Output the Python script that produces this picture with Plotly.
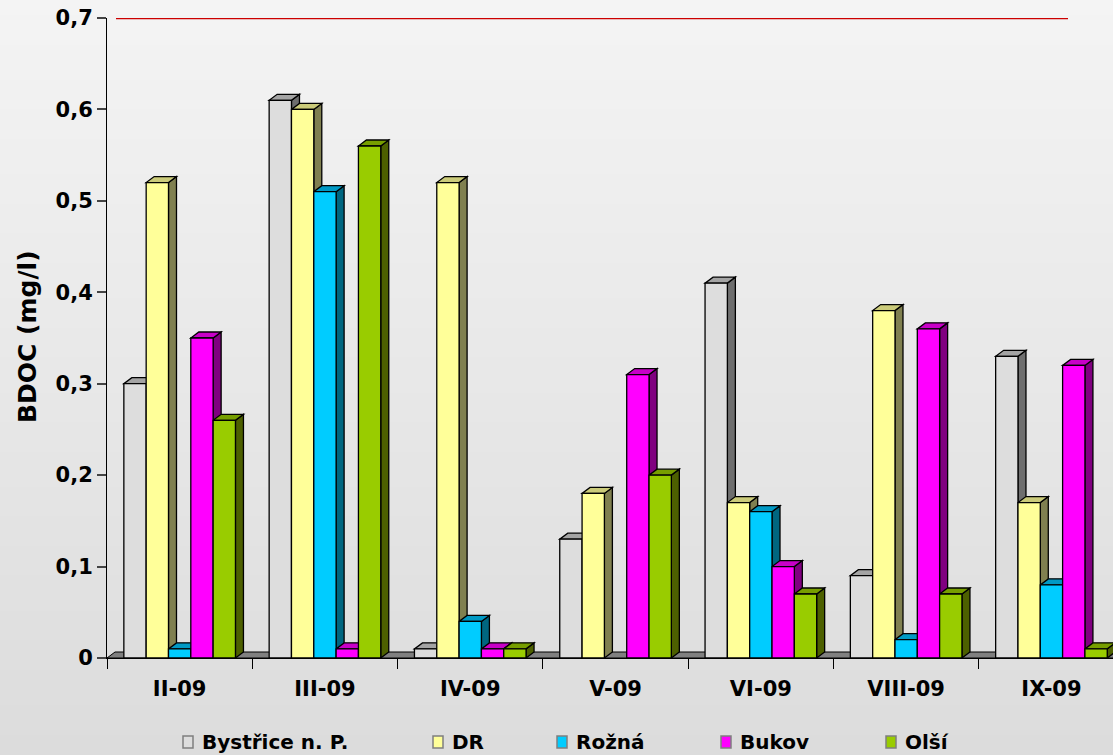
import base64
import struct
import zlib

import plotly.graph_objects as go

# ---- data -------------------------------------------------------------
categories = ["II-09", "III-09", "IV-09", "V-09", "VI-09", "VIII-09", "IX-09"]
series_names = ["Bystřice n. P.", "DR", "Rožná", "Bukov", "Olší"]
bystrice = [0.30, 0.61, 0.01, 0.13, 0.41, 0.09, 0.33]
dr = [0.52, 0.60, 0.52, 0.18, 0.17, 0.38, 0.17]
rozna = [0.01, 0.51, 0.04, None, 0.16, 0.02, 0.08]
bukov = [0.35, 0.01, 0.01, 0.31, 0.10, 0.36, 0.32]
olsi = [0.26, 0.56, 0.01, 0.20, 0.07, 0.07, 0.01]
limit_value = 0.7
y_ticks = [0, 0.1, 0.2, 0.3, 0.4, 0.5, 0.6, 0.7]
y_tick_labels = ["0", "0,1", "0,2", "0,3", "0,4", "0,5", "0,6", "0,7"]

series_values = [bystrice, dr, rozna, bukov, olsi]

# ---- styling ----------------------------------------------------------
front_colors = ["#DDDDDD", "#FFFF99", "#00CCFF", "#FF00FF", "#99CC00"]
top_colors = ["#A4A4A4", "#CBCB7A", "#0099C4", "#C800C8", "#779E00"]
side_colors = ["#6E6E6E", "#808050", "#006680", "#800080", "#4D6000"]

FONT = "DejaVu Sans"
W, H = 1113, 755
M_L, M_R, M_T, M_B = 107, 0, 18, 97
PLOT_W = W - M_L - M_R
PLOT_H = H - M_T - M_B
Y_MAX = 0.7
CAT_PX = 145.3                       # pixel width of one category slot
X_MIN = -0.5
X_MAX = X_MIN + PLOT_W / CAT_PX
BARGAP = 0.232
DEPTH_DX, DEPTH_DY = 8, 6            # 3-D depth offset in pixels
EDGE_W = 1.3

px_per_x = PLOT_W / (X_MAX - X_MIN)
px_per_y = PLOT_H / Y_MAX
ddx = DEPTH_DX / px_per_x
ddy = DEPTH_DY / px_per_y


def paper_x(px):
    return (px - M_L) / PLOT_W


def paper_y(py):
    return (H - M_B - py) / PLOT_H


def gradient_png(top, bottom, h):
    raw = b""
    for r in range(h):
        c = round(top + (bottom - top) * r / (h - 1))
        raw += b"\x00" + bytes([c, c, c])

    def chunk(tag, data):
        body = tag + data
        return struct.pack(">I", len(data)) + body + struct.pack(">I", zlib.crc32(body) & 0xFFFFFFFF)

    png = b"\x89PNG\r\n\x1a\n"
    png += chunk(b"IHDR", struct.pack(">IIBBBBB", 1, h, 8, 2, 0, 0, 0))
    png += chunk(b"IDAT", zlib.compress(raw, 9))
    png += chunk(b"IEND", b"")
    return "data:image/png;base64," + base64.b64encode(png).decode()


x_idx = list(range(len(categories)))
n_series = len(series_values)
bar_w = (1 - BARGAP) / n_series

fig = go.Figure()
shapes = []

# floor strip along the base
shapes.append(dict(
    type="path", xref="paper", yref="y", layer="below",
    path=(f"M {paper_x(M_L)},0 L {paper_x(M_L + DEPTH_DX)},{ddy} "
          f"L {paper_x(W + DEPTH_DX)},{ddy} L {paper_x(W)},0 Z"),
    fillcolor="#808080", line=dict(color="#000000", width=1),
))

# limit line on the back wall
shapes.append(dict(
    type="line", xref="paper", yref="y", layer="below",
    x0=paper_x(M_L + 9), x1=paper_x(1068), y0=limit_value, y1=limit_value,
    line=dict(color="#CC0000", width=2.5),
))

# side and top faces of each bar
for j in x_idx:
    for i, vals in enumerate(series_values):
        v = vals[j]
        if not v:
            continue
        xl = j - (1 - BARGAP) / 2 + i * bar_w
        xr = xl + bar_w
        shapes.append(dict(
            type="path", xref="x", yref="y", layer="below",
            path=(f"M {xr},0 L {xr},{v} L {xr + ddx},{v + ddy} L {xr + ddx},{ddy} Z"),
            fillcolor=side_colors[i], line=dict(color="#000000", width=EDGE_W),
        ))
        shapes.append(dict(
            type="path", xref="x", yref="y", layer="below",
            path=(f"M {xl},{v} L {xr},{v} L {xr + ddx},{v + ddy} L {xl + ddx},{v + ddy} Z"),
            fillcolor=top_colors[i], line=dict(color="#000000", width=EDGE_W),
        ))

# front faces
for i, vals in enumerate(series_values):
    fig.add_trace(go.Bar(
        x=x_idx, y=vals, name=series_names[i],
        marker=dict(color=front_colors[i], line=dict(color="#000000", width=EDGE_W)),
        showlegend=False,
    ))

# legend drawn as swatches and labels
legend_swatch_px = [183, 433, 557, 721, 886]
annotations = []
for i, name in enumerate(series_names):
    x0 = legend_swatch_px[i]
    shapes.append(dict(
        type="rect", xref="paper", yref="paper",
        x0=paper_x(x0), x1=paper_x(x0 + 10), y0=paper_y(748), y1=paper_y(736),
        fillcolor=front_colors[i], line=dict(color="#7F7F7F", width=1.5),
    ))
    annotations.append(dict(
        xref="paper", yref="paper", x=paper_x(x0 + 17), y=paper_y(742),
        xanchor="left", yanchor="middle", showarrow=False, text=f"<b>{name}</b>",
        font=dict(family=FONT, size=20, color="#000000"),
    ))

annotations.append(dict(
    xref="paper", yref="paper", x=paper_x(27), y=paper_y(337), textangle=-90,
    xanchor="center", yanchor="middle", showarrow=False, text="<b>BDOC (mg/l)</b>",
    font=dict(family=FONT, size=25, color="#000000"),
))

fig.update_layout(
    width=W, height=H,
    margin=dict(l=M_L, r=M_R, t=M_T, b=M_B, autoexpand=False),
    paper_bgcolor="#E8E8E8", plot_bgcolor="rgba(0,0,0,0)",
    barmode="group", bargap=BARGAP, bargroupgap=0,
    showlegend=False,
    font=dict(family=FONT, color="#000000"),
    shapes=shapes, annotations=annotations,
    images=[dict(
        source=gradient_png(0xF4, 0xDC, 128), xref="paper", yref="paper",
        x=paper_x(0), y=paper_y(0), sizex=W / PLOT_W, sizey=H / PLOT_H,
        xanchor="left", yanchor="top", sizing="stretch", layer="below",
    )],
    xaxis=dict(
        range=[X_MIN, X_MAX], tickmode="array", tickvals=x_idx, ticktext=categories,
        ticks="", showgrid=False, zeroline=False,
        showline=True, linecolor="#000000", linewidth=1,
        tickfont=dict(family=FONT, size=21, color="#000000", weight="bold"),
        ticklabelstandoff=12,
        minor=dict(tick0=-0.5, dtick=1, ticks="outside", ticklen=10,
                   tickcolor="#000000", tickwidth=1, showgrid=False),
    ),
    yaxis=dict(
        range=[0, Y_MAX], tickmode="array", tickvals=y_ticks, ticktext=y_tick_labels,
        ticks="outside", ticklen=9, tickcolor="#444444", tickwidth=1.5,
        showgrid=False, zeroline=False,
        showline=True, linecolor="#000000", linewidth=1,
        tickfont=dict(family=FONT, size=21, color="#000000", weight="bold"),
    ),
)

fig.write_html("out.html")
